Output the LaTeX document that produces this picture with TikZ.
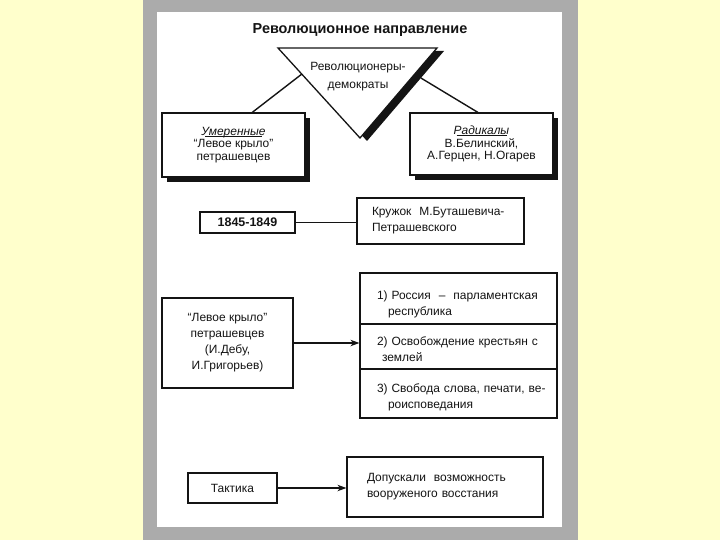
\documentclass[tikz,border=0pt]{standalone}
\usepackage{fontspec}
\setmainfont{Liberation Sans}
\usetikzlibrary{arrows.meta,positioning,calc,shadows}
\definecolor{RVPage}{HTML}{FFFFCC}
\definecolor{RVFrame}{HTML}{ABABAB}
\definecolor{RVInk}{HTML}{141414}
\tikzset{
  rvbox/.style={draw=RVInk,line width=1.2pt,fill=white,text=RVInk,
                font=\fontsize{12}{16}\selectfont,align=center,inner sep=0pt},
  boldbox/.style={rvbox,line width=1.7pt,font=\fontsize{12.5}{14}\selectfont\bfseries},
  shadowbox/.style={rvbox,font=\fontsize{12}{12.8}\selectfont,
                    drop shadow={shadow xshift=5bp,shadow yshift=-5bp,fill=RVInk,opacity=1}},
  listbox/.style={rvbox,align=left,inner xsep=17bp,text width=163bp},
  headline/.style={text=RVInk,font=\fontsize{14.5}{17}\selectfont\bfseries},
  tritext/.style={text=RVInk,font=\fontsize{12}{18}\selectfont,align=center},
  link/.style={RVInk,line width=1.4pt},
  flow/.style={link,-{Stealth[length=9bp,width=6.5bp]}},
}
\newcommand{\fullrow}[2]{\rule{0pt}{#1}\makebox[\hsize][s]{#2}}

\begin{document}
\begin{tikzpicture}[x=1bp,y=-1bp]
    % page, grey frame, white sheet
    \fill[RVPage] (0,0) rectangle (720,540);
    \fill[RVFrame] (143,0) rectangle (578,540);
    \fill[white] (157,12) rectangle (562,527);
    \useasboundingbox (0,0) rectangle (720,540);

    \node[headline] (head) at (360,30) {Революционное направление};

    % the triangle with its black shadow
    \coordinate (tl) at (278,48);
    \coordinate (tr) at (437,48);
    \coordinate (tip) at (360,138);
    \coordinate (stl) at ($(tl)+(7,3)$);
    \coordinate (str) at ($(tr)+(7,3)$);
    \coordinate (stip) at ($(tip)+(7,3)$);
    \fill[RVInk] (stl) -- (str) -- (stip) -- cycle;
    \draw[RVInk,line width=1.3pt,fill=white,line join=miter] (tl) -- (tr) -- (tip) -- cycle;
    \node[tritext] (rd) at (358,77) {Революционеры-\\демократы};

    \node[shadowbox,minimum width=143bp,minimum height=64bp] (moder) at (233.5,145)
      {\textit{Умеренные}\\[-11.6bp]\rule{57bp}{0.6bp}\\[-1bp]“Левое крыло”\\петрашевцев};
    \node[shadowbox,minimum width=143bp,minimum height=62bp] (radic) at (481.5,144)
      {\textit{Радикалы}\\[-11.6bp]\rule{50bp}{0.6bp}\\[-1bp]В.Белинский,\\А.Герцен, Н.Огарев};

    \coordinate (lfoot) at ($(tl)!0.29!(tip)$);
    \coordinate (rfoot) at ($(str)!0.3!(stip)$);
    \draw[link] (lfoot) -- ($(moder.north west)!0.63!(moder.north east)$);
    \draw[link] (rfoot) -- ($(radic.north west)!0.475!(radic.north east)$);

    % years and the circle
    \node[boldbox,minimum width=95bp,minimum height=21bp] (years) at (247.5,222.5) {1845-1849};
    \node[rvbox,align=left,inner xsep=15bp,text width=137bp,minimum height=46bp] (circle)
      at (440.5,221) {Кружок\ \ М.Буташевича-\\Петрашевского};
    \draw[link] (years.east) -- (years.east -| circle.west);

    % left wing and its programme
    \node[rvbox,minimum width=131bp,minimum height=90bp] (wing) at (227.5,343)
      {“Левое крыло”\\петрашевцев\\(И.Дебу,\\И.Григорьев)};
    \node[listbox,minimum height=51bp] (prog1) at (458.5,298.5)
      {\fullrow{21bp}{1) Россия \ – \ парламентская}\\\hspace*{11bp}республика};
    \node[listbox,minimum height=45bp] (prog2) at (458.5,346.5)
      {\fullrow{14bp}{2) Освобождение крестьян с}\\\hspace*{5bp}землей};
    \node[listbox,minimum height=49bp] (prog3) at (458.5,393.5)
      {\fullrow{16bp}{3) Свобода слова, печати, ве-}\\\hspace*{11bp}роисповедания};
    \draw[flow] (wing.east) -- (wing.east -| prog2.west);

    % tactics
    \node[rvbox,minimum width=89bp,minimum height=30bp] (tactic) at (232.5,488) {Тактика};
    \node[rvbox,align=left,inner xsep=20bp,text width=156bp,minimum height=60bp] (armed)
      at (445,487) {Допускали\ \ возможность\\вооруженого восстания};
    \draw[flow] (tactic.east) -- (tactic.east -| armed.west);
\end{tikzpicture}
\end{document}
